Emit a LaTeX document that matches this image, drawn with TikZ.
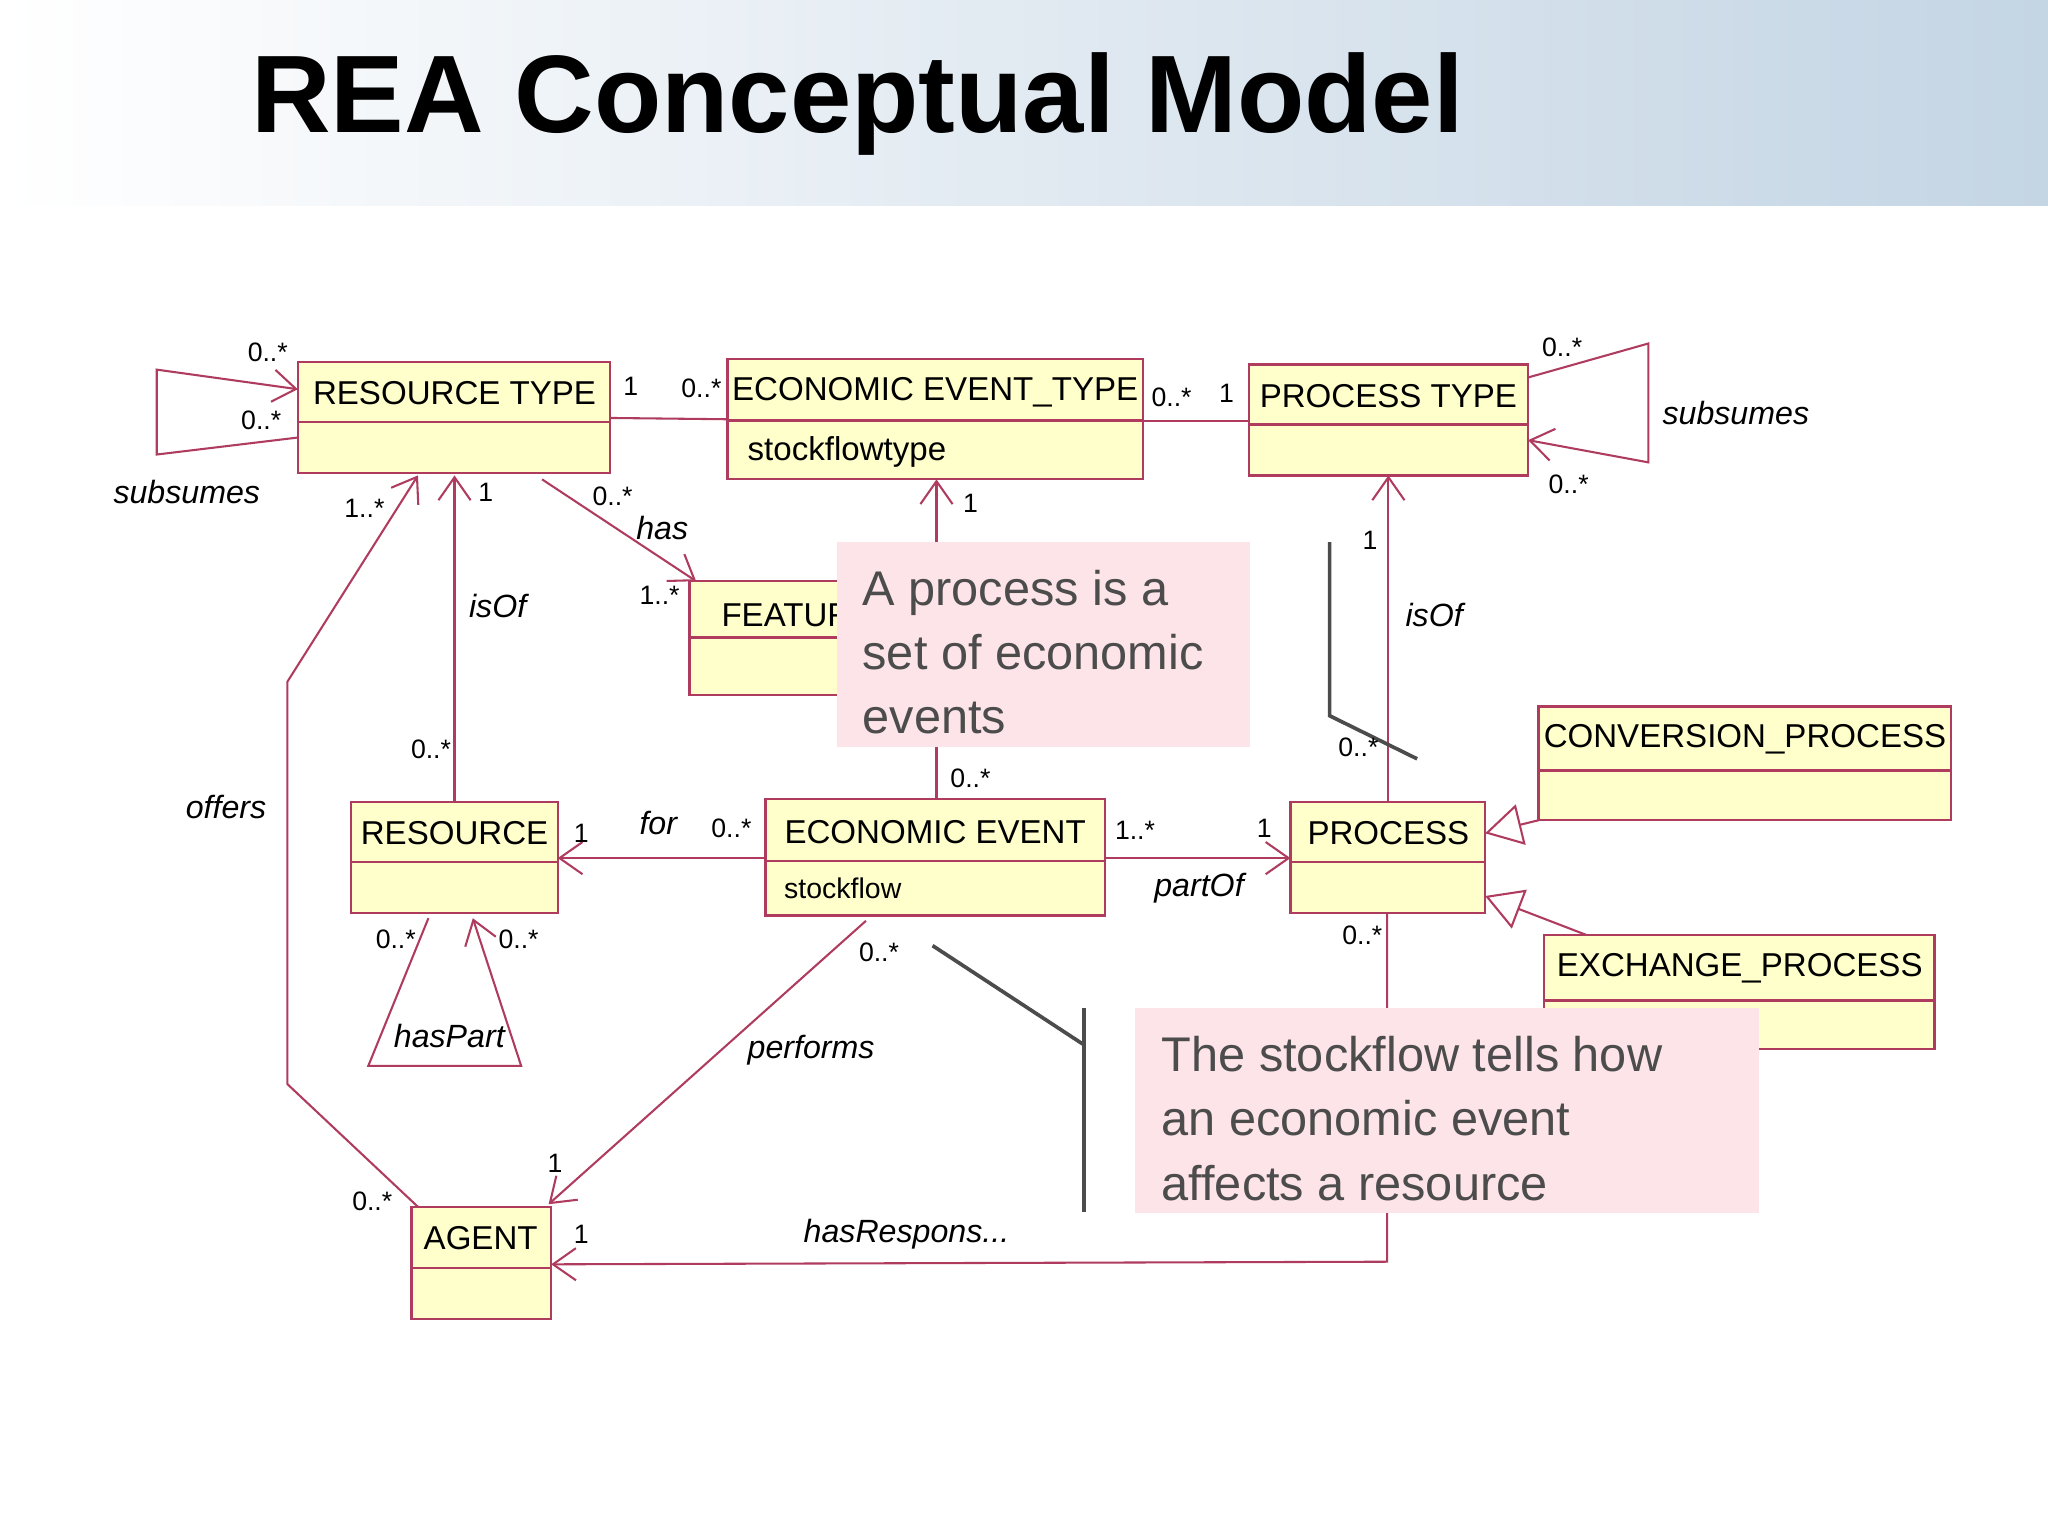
\documentclass[tikz,border=0pt]{standalone}
\usepackage{fontspec}
\setmainfont{Liberation Sans}
\usetikzlibrary{arrows.meta}
\definecolor{ln}{RGB}{175,60,95}
\definecolor{cf}{RGB}{255,255,204}
\definecolor{nt}{RGB}{253,228,232}
\definecolor{hd}{RGB}{196,213,228}
\tikzset{
 cls/.style={draw=ln,fill=cf,line width=0.5pt},
 cn/.style={font=\fontsize{7.2}{8}\selectfont,anchor=center},
 lb/.style={font=\fontsize{5.8}{7}\selectfont},
 rl/.style={font=\fontsize{7}{8}\selectfont\itshape},
 con/.style={draw=ln,line width=0.45pt},
 oa/.style={-{Straight Barb[length=5pt,width=7pt,line width=0.45pt]}},
 ga/.style={-{Triangle[open,length=8pt,width=9pt,fill=white]}},
 note/.style={fill=nt,draw=none},
 nl/.style={draw=black!70,line width=0.8pt},
 ntx/.style={font=\fontsize{10.6}{14}\selectfont,text=black!70,align=left,anchor=north west}
}
\newcommand{\umlbox}[6]{% name x1 y1 x2 y2 ydiv
 \path[cls] (#2,#3) rectangle (#4,#5);
 \draw[ln,line width=0.5pt] (#2,#6) -- (#4,#6);
 \coordinate (#1) at ({(#2+#4)/2},{(#3+#5)/2});}
\begin{document}
\begin{tikzpicture}[x=0.01cm,y=-0.01cm]
\useasboundingbox (0,0) rectangle (1568,1176);
\fill[white] (0,0) rectangle (1568,1176);
\shade[left color=white,right color=hd] (0,0) rectangle (1568,157);
\node[anchor=west,font=\fontsize{24}{28}\selectfont\bfseries] (title) at (180,80) {REA Conceptual Model};

% connectors
\draw[con,oa] (228,335) -- (120,348) -- (120,283) -- (228,298);
\draw[con,oa] (1170,289) -- (1262,263) -- (1262,354) -- (1170,337);
\draw[con] (467,320) -- (557,321);
\draw[con] (875,322) -- (956,322);
\draw[con,oa] (415,367) -- (533,445);
\draw[con,oa] (348,614) -- (348,364);
\draw[con,oa] (320,924) -- (220,830) -- (220,522) -- (320,364);
\draw[con,oa] (717,612) -- (717,367);
\draw[con,oa] (586,657) -- (427,657);
\draw[con,oa] (846,657) -- (988,657);
\draw[con,oa] (1063,614) -- (1063,364);
\draw[con,oa] (328,703) -- (282,816) -- (399,816) -- (362,703);
\draw[con,oa] (663,705) -- (420,922);
\draw[con,oa] (1062,699) -- (1062,966) -- (422,968);
\draw[con,ga] (1178,628) -- (1137,638);
\draw[con,ga] (1215,716) -- (1137,686);

% classes
\umlbox{rt}{228}{277}{467}{362}{323}
\node[cn] at (348,301) {RESOURCE TYPE};
\umlbox{eet}{557}{275}{875}{367}{322}
\node[cn] at (716,300) {ECONOMIC EVENT\_TYPE};
\node[cn,anchor=west] at (560,346) {stockflowtype};
\umlbox{pt}{956}{279}{1170}{364}{325}
\node[cn] at (1063,303) {PROCESS TYPE};
\umlbox{ft}{528}{445}{700}{532}{488}
\node[cn,anchor=west] at (540,471) {FEATURE};
\umlbox{res}{269}{614}{427}{699}{660}
\node[cn] at (348,638) {RESOURCE};
\umlbox{ee}{586}{612}{846}{701}{659}
\node[cn] at (716,637) {ECONOMIC EVENT};
\node[cn,anchor=west,font=\fontsize{6.2}{7}\selectfont] at (588,680) {stockflow};
\umlbox{pr}{988}{614}{1137}{699}{660}
\node[cn] at (1063,638) {PROCESS};
\umlbox{cp}{1178}{541}{1494}{628}{590}
\node[cn] at (1336,566) {CONVERSION\_PROCESS};
\umlbox{xp}{1182}{716}{1481}{803}{766}
\node[cn] at (1332,741) {EXCHANGE\_PROCESS};
\umlbox{ag}{315}{924}{422}{1010}{971}
\node[cn] at (368,948) {AGENT};

% notes
\fill[note] (641,415) rectangle (957,572);
\node[ntx] (n1) at (648,424) {A process is a\\set of economic\\events};
\draw[nl] (1018,415) -- (1018,548) -- (1085,581);
\fill[note] (869,772) rectangle (1347,929);
\node[ntx] (n2) at (877,781) {The stockflow tells how\\an economic event\\affects a resource};
\draw[nl] (714,724) -- (830,800);
\draw[nl] (830,772) -- (830,928);

% labels
\node[lb] at (205,270) {0..*};
\node[lb] at (200,322) {0..*};
\node[rl] at (143,377) {subsumes};
\node[lb] at (1196,266) {0..*};
\node[lb] at (1201,371) {0..*};
\node[rl] at (1329,316) {subsumes};
\node[lb] at (483,296) {1};
\node[lb] at (537,297) {0..*};
\node[lb] at (897,304) {0..*};
\node[lb] at (939,301) {1};
\node[lb] at (469,380) {0..*};
\node[rl] at (507,404) {has};
\node[lb] at (505,456) {1..*};
\node[lb] at (372,377) {1};
\node[rl] at (381,464) {isOf};
\node[lb] at (330,574) {0..*};
\node[lb] at (279,389) {1..*};
\node[rl] at (173,618) {offers};
\node[lb] at (285,920) {0..*};
\node[lb] at (743,385) {1};
\node[lb] at (743,596) {0..*};
\node[lb] at (445,638) {1};
\node[rl] at (504,630) {for};
\node[lb] at (560,634) {0..*};
\node[lb] at (869,636) {1..*};
\node[lb] at (968,634) {1};
\node[rl] at (918,680) {partOf};
\node[lb] at (1049,414) {1};
\node[rl] at (1098,471) {isOf};
\node[lb] at (1040,572) {0..*};
\node[lb] at (303,719) {0..*};
\node[lb] at (397,719) {0..*};
\node[rl] at (344,793) {hasPart};
\node[lb] at (673,729) {0..*};
\node[rl] at (621,804) {performs};
\node[lb] at (425,891) {1};
\node[lb] at (1043,716) {0..*};
\node[lb] at (445,945) {1};
\node[rl] at (694,945) {hasRespons...};
\end{tikzpicture}
\end{document}
